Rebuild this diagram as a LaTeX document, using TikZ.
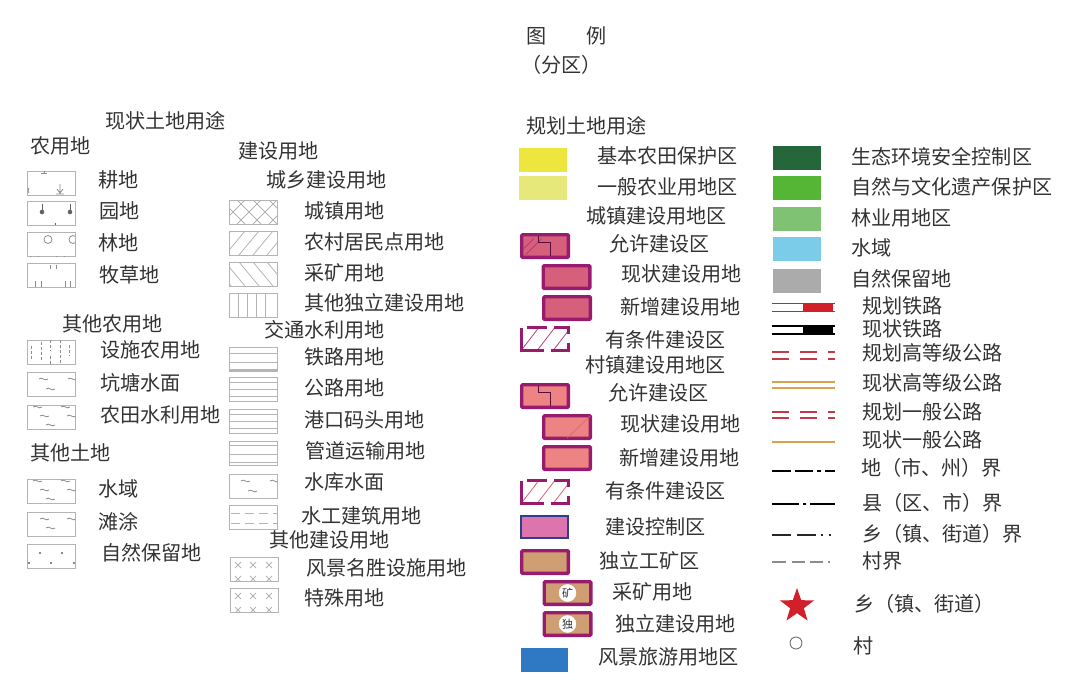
\documentclass[tikz,border=0pt]{standalone}
\usepackage{fontspec}
\setmainfont{Noto Sans CJK SC}
\usetikzlibrary{shapes.geometric}
\definecolor{txtgray}{HTML}{333333}
\definecolor{boxgray}{HTML}{B4B4B4}
\definecolor{symgray}{HTML}{8C8C8C}
\definecolor{frame}{HTML}{981B6D}
\definecolor{townpink}{HTML}{D65F7C}
\definecolor{villagepink}{HTML}{EE8383}
\definecolor{minetan}{HTML}{CF9E72}
\definecolor{railred}{HTML}{D2202A}
\definecolor{roadred}{HTML}{C23A4A}
\definecolor{roadgold}{HTML}{D9A24E}
\newcommand{\wv}[2]{\draw[sym] (#1,#2) .. controls +(3,-3) and +(-3,3) .. +(9,0);}
\newcommand{\inbox}[2]{\begin{scope}[shift={(#1.north west)}]
\clip (0,0) rectangle (48,24);
#2
\end{scope}}
\newcommand{\cond}[3]{\begin{scope}[shift={(#1,#2)}]
\begin{scope}
\clip (0,0) rectangle (50,26);
\foreach \i in {0,16,32,48}
\draw[#3, line width=.9pt] (\i,26) -- (\i+20,0);
\end{scope}
\draw[frame, line width=3.4pt] (1.7,2) -- (1.7,24.3) -- (24,24.3);
\draw[frame, line width=3.4pt] (31,24.3) -- (48.3,24.3) -- (48.3,17);
\draw[frame, line width=3.4pt] (7,1.7) -- (27,1.7);
\draw[frame, line width=3.4pt] (34,1.7) -- (48.3,1.7) -- (48.3,8);
\end{scope}}
\tikzset{
lbl/.style={anchor=west, inner sep=0pt, text=txtgray, font=\fontsize{20.1}{21}\selectfont},
sym/.style={draw=symgray, line width=.8pt},
ink/.style={draw=boxgray, line width=.8pt},
legendbox/.style={draw=boxgray, line width=.9pt, minimum width=48pt, minimum height=24pt, inner sep=0pt, outer sep=0pt, anchor=north west},
colorbox/.style={minimum width=48pt, minimum height=24pt, inner sep=0pt, outer sep=0pt, anchor=north west},
framebox/.style={draw=frame, line width=3.4pt, rounded corners=1pt, minimum width=46.6pt, minimum height=22.6pt, inner sep=0pt, outer sep=0pt},
badge/.style={circle, draw=white, fill=white, minimum size=17pt, inner sep=0pt, text=txtgray, font=\fontsize{11}{11}\selectfont},
}
\begin{document}
\begin{tikzpicture}[x=1pt, y=-1pt]
\useasboundingbox (0,0) rectangle (1080,688);

% left column
\foreach \n/\x/\y/\s in {tu/526/36/图, li/586/36/例, fq/521/65/（分区）, xz/105/121/现状土地用途,
  ny/30/146/农用地, gd/98/180/耕地, yd/99/211/园地, ld/98/243/林地, mc/99/275/牧草地,
  qn/62/324/其他农用地, ss/100/350/设施农用地, kt/100/383/坑塘水面, nt/100/415/农田水利用地,
  qt/30/453/其他土地, sy/98/489/水域, tt/98/522/滩涂, zr/101/553/自然保留地}
  \node[lbl] (\n) at (\x,\y) {\s};

\foreach \n/\x/\y in {b1/27/171, b2/27/201, b3/27/232, b4/27/263, b5/27/340, b6/27/372, b7/27/405, b8/27/479, b9/27/512, b10/27/544}
  \node[legendbox] (\n) at (\x,\y) {};
\inbox{b1}{
  \draw[sym] (14,2) -- (20,2) (17,0) -- (17,2);
  \draw[sym] (33,13) -- (33,22) (30,18) -- (33,22) -- (36,18) (29,23) -- (37,23);
  \draw[sym] (2,17) -- (1,20) -- (2,22);}
\inbox{b2}{
  \draw[symgray!70!black, line width=.8pt] (15,3) -- (15,10) (43,3) -- (43,10) (28,22) -- (28,24);
  \fill[symgray!70!black] (15,11) circle (2.3) (43,11) circle (2.3);}
\inbox{b3}{
  \draw[sym] (21,7.5) circle (4) (46,7.5) circle (4);
  \draw[sym] (3.5,24) arc (180:0:4) (29.5,24) arc (180:0:4);}
\inbox{b4}{
  \draw[sym] (23,2) -- (23,6) (29,2) -- (29,6);
  \foreach \x in {8,14,38,43}
  \draw[sym] (\x,18) -- (\x,24);}
\inbox{b5}{
  \foreach \x/\a/\b in {4/6/20, 14/2/20, 23/0/11, 23/16/24, 33/0/24, 42/5/16}
  \draw[sym, densely dashed] (\x,\a) -- (\x,\b);}
\inbox{b6}{\wv{12}{7}\wv{19}{17}\wv{41}{7}}
\inbox{b7}{\wv{6}{2}\wv{34}{2}\wv{13}{11}\wv{40}{11}\wv{19}{20}}
\inbox{b8}{\wv{6}{2}\wv{34}{2}\wv{13}{11}\wv{40}{11}\wv{19}{20}}
\inbox{b9}{\wv{13}{7}\wv{40}{7}\wv{19}{16}}
\inbox{b10}{
  \foreach \x/\y in {13/9, 35/9, 2/19, 24/19, 47/19}
  \fill[symgray!70!black] (\x,\y) circle (1.1);}

% middle column
\foreach \n/\x/\y/\s in {js/238/151/建设用地, cx/266/180/城乡建设用地, cz/304/211/城镇用地,
  nc/304/242/农村居民点用地, ck/304/273/采矿用地, dl/304/303/其他独立建设用地,
  jt/264/330/交通水利用地, tl/304/357/铁路用地, gl/304/388/公路用地, gk/304/420/港口码头用地,
  gy/305/451/管道运输用地, sk/304/482/水库水面, sg/301/516/水工建筑用地,
  qj/269/540/其他建设用地, fj/306/568/风景名胜设施用地, ts/304/598/特殊用地}
  \node[lbl] (\n) at (\x,\y) {\s};

\foreach \n/\x/\y in {c1/229/200, c2/229/231, c3/229/262, c4/229/293, c5/229/347, c6/229/377, c7/229/409, c8/229/441, c9/229/474, c10/229/505, c11/230/557, c12/230/588}
  \node[legendbox] (\n) at (\x,\y) {};
\inbox{c1}{
  \foreach \x in {-24,-8,8,24,40} {
  \draw[ink] (\x,24) -- (\x+24,0);
  \draw[ink] (\x,0) -- (\x+24,24);
  }}
\inbox{c2}{
  \foreach \x in {-18,-4,10,24,38,52}
  \draw[ink] (\x,24) -- (\x+20,0);}
\inbox{c3}{
  \foreach \x in {-18,-4,10,24,38,52}
  \draw[ink] (\x,0) -- (\x+20,24);}
\inbox{c4}{
  \foreach \x in {9,18,27,36}
  \draw[ink] (\x,0) -- (\x,24);}
\inbox{c5}{
  \foreach \y in {6,15}
  \draw[ink] (0,\y) -- (48,\y);
  \draw[boxgray, line width=2.5pt] (0,23) -- (48,23);}
\inbox{c6}{
  \foreach \y in {5,12,19}
  \draw[ink] (0,\y) -- (48,\y);}
\inbox{c7}{
  \foreach \y in {5,12,19}
  \draw[ink] (0,\y) -- (48,\y);}
\inbox{c8}{
  \foreach \y in {4,13,21}
  \draw[ink] (0,\y) -- (48,\y);}
\inbox{c9}{\wv{12}{7}\wv{19}{17}\wv{41}{7}}
\inbox{c10}{
  \foreach \y in {8,18}
  \draw[ink, dash pattern=on 9pt off 5pt] (2,\y) -- (48,\y);}
\inbox{c11}{
  \foreach \x in {8,23,39} \foreach \y in {8,22}
  \draw[ink] (\x-3,\y-3) -- (\x+3,\y+3) (\x-3,\y+3) -- (\x+3,\y-3);}
\inbox{c12}{
  \foreach \x in {8,23,39} \foreach \y in {8,22}
  \draw[ink] (\x-3,\y-3) -- (\x+3,\y+3) (\x-3,\y+3) -- (\x+3,\y-3);}

% planned use
\foreach \n/\x/\y/\s in {gh/526/126/规划土地用途, jb/597/156/基本农田保护区, yb/597/187/一般农业用地区,
  cj/586/216/城镇建设用地区, yx/609/244/允许建设区, xj/621/274/现状建设用地, zj/620/307/新增建设用地,
  yt/605/340/有条件建设区, vj/585/365/村镇建设用地区, vy/608/393/允许建设区, vx/620/424/现状建设用地,
  vz/619/458/新增建设用地, vt/605/491/有条件建设区, kz/605/527/建设控制区, dg/599/561/独立工矿区,
  cy/612/592/采矿用地, dy/615/624/独立建设用地, fl/598/657/风景旅游用地区}
  \node[lbl] (\n) at (\x,\y) {\s};

\node[colorbox, fill={rgb,255:red,237;green,230;blue,63}] (p1) at (519,148) {};
\node[colorbox, fill={rgb,255:red,230;green,232;blue,122}] (p2) at (519,176) {};
\node[framebox, fill=townpink] (p3) at (545,246) {};
\begin{scope}[shift={(p3.north west)}]
\clip (1.7,1.7) rectangle (45,21);
\draw[frame!60!townpink, line width=.6pt] (-4,20) -- (12,4) (4,20) -- (20,4);
\draw[black!45!frame, line width=.9pt] (17,0) -- (17,8) -- (29,8) -- (29,22);
\end{scope}
\node[framebox, fill=townpink] (p4) at (566.5,277) {};
\node[framebox, fill=townpink] (p5) at (567,308) {};
\cond{520}{326}{frame!75!white}
\node[framebox, fill=villagepink] (p6) at (545,396) {};
\begin{scope}[shift={(p6.north west)}]
\clip (1.7,1.7) rectangle (45,21);
\draw[black!45!frame, line width=.9pt] (17,0) -- (17,8) -- (29,8) -- (29,22);
\end{scope}
\node[framebox, fill=villagepink] (p7) at (567,427) {};
\draw[townpink, line width=.5pt] (p7.south) -- (p7.north east);
\node[framebox, fill=villagepink] (p8) at (567,458) {};
\cond{520}{479}{villagepink!80!frame}
\node[colorbox, draw={rgb,255:red,47;green,62;blue,142}, line width=2pt, minimum width=47pt, minimum height=22pt, fill={rgb,255:red,222;green,116;blue,174}] (p9) at (521,516) {};
\node[framebox, fill=minetan] (p10) at (545,562) {};
\node[framebox, fill=minetan] (p11) at (567.5,593) {};
\node[badge] (k1) at (p11) {矿};
\node[framebox, fill=minetan] (p12) at (567.5,624) {};
\node[badge] (k2) at (p12) {独};
\node[colorbox, minimum width=47pt, fill={rgb,255:red,47;green,120;blue,196}] (p13) at (521,648) {};

% right column
\foreach \n/\x/\y/\s in {st/851/157/生态环境安全控制区, wh/851/187/自然与文化遗产保护区, ly/851/218/林业用地区,
  sw/851/248/水域, bl/851/279/自然保留地, gt/862/306/规划铁路, xt/862/329/现状铁路,
  gg/862/353/规划高等级公路, xg/862/383/现状高等级公路, gb/862/412/规划一般公路, xb/862/440/现状一般公路,
  sj/861/468/地（市、州）界, xq/862/503/县（区、市）界, xn/862/534/乡（镇、街道）界, cu/862/561/村界,
  xs/854/604/乡（镇、街道）, vi/853/646/村}
  \node[lbl] (\n) at (\x,\y) {\s};

\node[colorbox, fill={rgb,255:red,37;green,103;blue,58}] (r1) at (773,146) {};
\node[colorbox, fill={rgb,255:red,85;green,181;blue,52}] (r2) at (773,176) {};
\node[colorbox, fill={rgb,255:red,127;green,194;blue,115}] (r3) at (773,207) {};
\node[colorbox, fill={rgb,255:red,122;green,204;blue,232}] (r4) at (773,237) {};
\node[colorbox, fill={rgb,255:red,171;green,171;blue,171}] (r5) at (773,269) {};

\draw[railred, line width=1.5pt] (772,303.5) -- (835,303.5) (772,311.5) -- (835,311.5);
\fill[railred] (803,303) rectangle (833,312);
\draw[black, line width=1.5pt] (772,326) -- (835,326) (772,334) -- (835,334);
\fill[black] (803,326) rectangle (833,334);
\foreach \y in {352,359,412,418} {
\draw[roadred, line width=1.8pt] (772,\y) -- (789,\y);
\draw[roadred, line width=1.8pt] (800,\y) -- (817,\y);
\draw[roadred, line width=1.8pt] (828,\y) -- (835,\y);
}
\draw[roadgold, line width=1.6pt] (772,382) -- (835,382) (772,388) -- (835,388);
\draw[roadgold, line width=1.6pt] (772,442) -- (835,442);
\draw[black, line width=2.4pt] (772,471) -- (791,471) (795,471) -- (813,471) (817,471) -- (821,471) (825,471) -- (835,471);
\draw[black, line width=2.2pt] (772,504) -- (799,504) (803,504) -- (806,504) (810,504) -- (835,504);
\draw[black!85, line width=1.2pt] (772,535) -- (791,535) (797,535) -- (816,535) (821,535) -- (823,535) (829,535) -- (831,535);
\draw[black!45, line width=1.1pt] (772,562) -- (786,562) (792,562) -- (805,562) (810,562) -- (823,562) (828,562) -- (830,562);
\node[star, star points=5, star point ratio=2.5, fill=railred, minimum size=36pt, inner sep=0pt] (rs) at (797,606) {};
\node[circle, draw=black!55, line width=.9pt, minimum size=12pt, inner sep=0pt] (cv) at (796,643) {};
\end{tikzpicture}
\end{document}
